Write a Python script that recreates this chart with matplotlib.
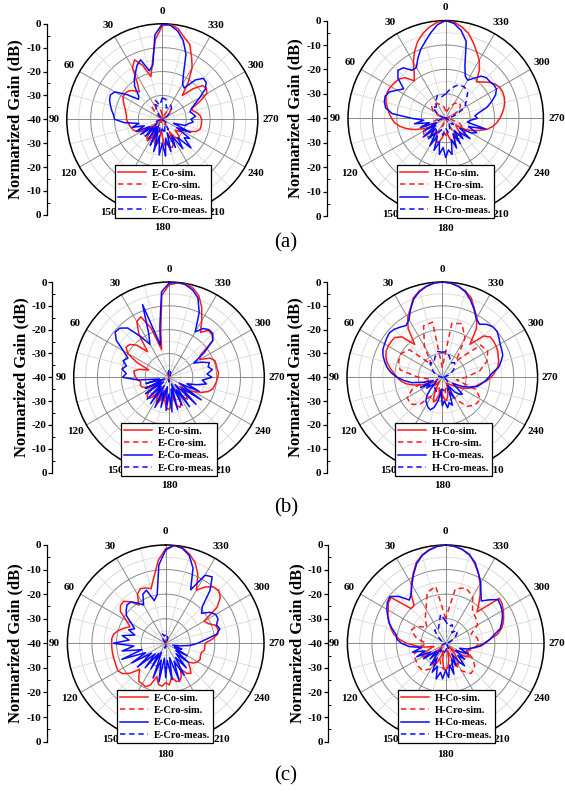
import numpy as np
import matplotlib
matplotlib.use("Agg")
import matplotlib.pyplot as plt

# ---------------------------------------------------------------- data
# angle grids (deg, counter-clockwise from 0 at the top)
ANG5 = list(range(0, 360, 5))
ANG10 = list(range(0, 360, 10))

# ----- (a) E-plane
A_E_CO_SIM = [-0.8, -6.5, -16, -21.5, -16, -12.5, -15, -22, -25, -23, -21.5, -21,
              -21, -22, -23, -24, -24.5, -25, -25, -25.5, -26, -26.5, -27, -28,
              -30, -34, -37, -33, -30, -29, -31, -36, -31, -28.5, -30, -35,
              -33, -29, -29.5, -28, -27.5, -29, -34, -31, -29, -30, -33, -31,
              -31, -28, -25, -23.7, -23.5, -23.5, -23.5, -24, -25, -26.5, -27, -23,
              -18.5, -17.4, -18, -22, -27, -21, -15, -11, -6.5, -4.5, -1.5, 0]
A_E_CO_MEAS = [0, -4.5, -17, -19, -13.5, -15, -17.5, -19.5, -22, -26, -27, -22,
               -17, -16, -16.5, -17.5, -18.5, -19.5, -20, -24, -30, -27, -32, -28,
               -34, -29, -35, -30, -36, -30, -37, -28, -35, -26, -33, -25,
               -30, -24.5, -32, -26, -34, -27, -32, -25, -30, -23, -28, -26,
               -33, -27, -35, -30, -29, -27, -28, -26, -27, -28, -27, -25,
               -22, -18, -16, -15.7, -18.5, -24, -23, -19, -11, -6, -2.5, -0.5]
A_E_CRO_SIM = [-38, -36, -34, -32.5, -33, -37, -40, -40, -40, -40, -40, -40,
               -40, -39, -38, -37, -38, -40, -40, -40, -38, -37, -38, -40,
               -40, -40, -40, -40, -40, -40, -39, -36, -34.5, -36, -39, -40]
A_E_CRO_MEAS = [-31, -34, -31.5, -35, -38, -40, -40, -40, -40, -40, -39, -37,
                -38, -36, -37, -35, -37, -34, -36, -34, -37, -35, -38, -38,
                -40, -40, -40, -40, -40, -40, -38, -36, -34, -33, -35, -31.5]

# ----- (a) H-plane
A_H_CO_SIM = [0, -0.5, -2, -4, -6.5, -9.8, -13.5, -17.5, -20, -16.5, -15, -14.5,
              -14, -13.8, -14, -14.7, -15.8, -16.8, -17.8, -19, -21, -23.5, -26.5, -30,
              -33, -35, -34, -32, -31, -31.5, -33, -31, -29.5, -30, -32, -34,
              -33, -34, -32, -30, -29.5, -31, -33, -31.5, -31, -32, -34, -35,
              -31, -28, -25.5, -22.5, -20.5, -19, -17.8, -16.8, -15.8, -15, -14.5, -14.3,
              -14.5, -15.5, -17, -19, -20.5, -16, -12.5, -10, -7, -4, -2, -0.5]
A_H_CO_MEAS = [0, -1.5, -4.5, -7.5, -10, -13, -16, -16, -13, -12.3, -14.5, -19,
               -17, -14.5, -13.6, -14, -15, -18, -26, -31, -27, -33, -29, -36,
               -30, -35, -28, -34, -29, -33, -27, -32, -26, -30, -25, -28,
               -24, -27, -25, -31, -27, -33, -28, -34, -29, -32, -27, -33,
               -28, -26, -30, -23, -31, -30, -27, -28, -26, -22.5, -20, -17.5,
               -16, -16, -16.5, -16.5, -17.5, -20, -22, -21, -17, -7.5, -3.5, -1]
A_H_CRO_SIM = [-37, -35, -34, -33, -32.5, -32.5, -34, -37, -40, -40, -36, -32,
               -29.5, -28.5, -30, -34, -37, -40, -40, -40, -37, -34, -31, -30,
               -31, -34, -38, -40, -40, -37, -34, -32, -31.5, -33, -35, -37]
A_H_CRO_MEAS = [-30, -31, -30, -32, -34, -33, -36, -38, -40, -40, -38, -36,
                -35, -33, -34, -32, -35, -33, -36, -34, -35, -37, -38, -36,
                -38, -40, -40, -40, -38, -35, -31, -29, -26, -25, -25.5, -27.5]

# ----- (b) E-plane
B_E_CO_SIM = [-1.2, -5.5, -20, -28, -18, -12, -13, -18, -26, -21, -18.5, -18,
              -20, -25, -31, -27, -25, -25.5, -26, -27, -28, -27.5, -28, -30,
              -33, -30, -28, -27.5, -29, -33, -30, -27.5, -30, -35, -30, -27,
              -26.5, -28, -32, -28, -26.5, -28, -33, -30, -28, -30, -34, -30,
              -28, -25, -22.5, -21, -20.5, -20, -19.5, -19.2, -19.5, -19.5, -19.5, -21,
              -25, -24, -16, -14.5, -14.3, -17, -12.5, -7.5, -3.5, -1.2, 0, -0.3]
B_E_CO_MEAS = [-0.5, -4, -18, -26, -7.5, -20, -24, -19, -13, -10.8, -10.5, -13,
               -18, -21, -19.5, -21.5, -20, -22, -20.5, -27, -36, -30, -38, -29,
               -36, -28, -37, -27, -35, -26.5, -36, -26, -34, -27, -36, -26,
               -33, -25.5, -35, -26, -37, -27, -34, -25, -36, -24, -33, -23.5,
               -35, -26, -32, -28, -24, -26, -22, -24, -21.5, -23, -22, -25,
               -28, -22, -16, -14, -13.9, -15, -18, -10, -4.5, -2, -0.5, 0]
B_E_CRO_SIM = [-38, -39, -40, -40, -40, -40, -40, -40, -40, -40, -40, -40,
               -40, -40, -40, -39, -38.5, -39, -40, -40, -40, -40, -40, -40,
               -40, -40, -40, -40, -40, -40, -40, -40, -40, -40, -39, -38.5]
B_E_CRO_MEAS = [-37, -38, -39, -40, -40, -40, -40, -40, -40, -40, -40, -40,
                -40, -40, -40, -40, -40, -39, -38, -39, -40, -40, -40, -40,
                -40, -40, -40, -40, -40, -40, -40, -40, -40, -39, -38, -37.5]

# ----- (b) H-plane
B_H_CO_SIM = [0, -0.3, -1.2, -2.5, -4.5, -8.2, -11, -15, -22, -16, -14, -13.8,
              -13.8, -14, -14.8, -16, -17.8, -19.5, -21, -22.5, -24.5, -27.5, -31, -34,
              -36, -37, -36, -35, -36, -38, -36, -32, -29, -30, -33, -35,
              -33, -31, -30, -31.5, -33, -35, -36, -37, -36.5, -36, -35, -33,
              -31, -29, -27, -25.5, -24, -21.5, -19.5, -18, -16.5, -15.5, -15, -14.3,
              -13.9, -13.7, -13.7, -15.5, -22, -15, -11, -8.2, -4.5, -2.5, -1.2, -0.3]
B_H_CO_MEAS = [0, -0.3, -1.3, -2.8, -5, -8.5, -12, -13.5, -12.5, -11.5, -11, -11.5,
               -12, -12.5, -13.5, -15, -16.5, -18.5, -21, -24, -27, -32, -36, -30,
               -34, -32, -36, -33, -30, -28, -27, -26, -25.5, -27, -30, -34,
               -28, -30, -27, -29, -27.5, -33, -30, -36, -32, -30, -29, -33,
               -35, -31, -28, -25, -23.5, -22, -20.5, -19, -16, -14.5, -13, -12.5,
               -12, -11, -10, -10, -11, -12.8, -11.5, -8.5, -5.5, -2.8, -1.2, -0.3]
B_H_CRO_SIM = [-36, -16.5, -17, -25, -33, -22, -20, -20.5, -22, -30, -35, -27,
               -23, -22.5, -25, -31, -36, -33, -31, -33, -36, -30, -24, -22,
               -21.5, -25, -34, -30, -24, -20, -18, -19, -31, -21, -16, -17]
B_H_CRO_MEAS = [-29.5, -29, -31, -33, -32, -34, -36, -38, -39, -40, -39, -38,
                -37, -36, -35, -34, -33.5, -34, -35, -34, -33.5, -35, -36, -37,
                -38, -39, -40, -40, -39, -37, -35, -33, -32, -33, -31, -29]

# ----- (c) E-plane
C_E_CO_SIM = [-1.5, -6, -12.5, -17, -16, -15.5, -17, -21, -18, -15.8, -16, -17.5,
              -21.5, -24, -22, -20, -18.5, -18, -18, -18, -18, -18, -18, -17.8,
              -17.6, -18.5, -21, -25, -23, -21, -21, -20.5, -22, -26, -23, -22.5,
              -24, -23, -26, -24, -23.5, -25, -28, -25, -24, -26, -28, -26,
              -25, -24.5, -25, -25, -24, -24, -24, -21, -18.5, -17.9, -18.5, -21,
              -22, -14.5, -11, -9.5, -10, -12, -15, -9, -5, -2.5, -0.5, 0]
C_E_CO_MEAS = [-2, -8, -20, -22, -17, -18, -22, -20, -18, -17.8, -19, -20.5,
               -24, -26, -24, -27, -22, -25, -18.7, -27, -22, -30, -21, -31,
               -24, -33, -25, -34, -27, -35, -28, -36, -25, -33, -24, -34,
               -26, -33, -25, -34, -24, -32, -25, -33, -27, -34, -28, -35,
               -30, -36, -33, -37, -34, -30, -27, -24, -19, -17.2, -18, -16.5,
               -16.5, -18, -21, -19, -12, -7, -8, -16, -7.5, -3, -0.8, 0]
C_E_CRO_SIM = [-38.5, -39, -40, -40, -40, -40, -40, -40, -40, -40, -40, -40,
               -40, -40, -40, -40, -39.5, -39, -39.5, -40, -40, -40, -40, -40,
               -40, -40, -40, -40, -40, -40, -40, -40, -40, -40, -39.5, -39]
C_E_CRO_MEAS = [-36.5, -37, -36, -37.5, -39, -40, -40, -40, -40, -40, -40, -40,
                -40, -40, -40, -40, -39, -38, -38.5, -39, -40, -40, -40, -40,
                -40, -40, -40, -40, -40, -40, -40, -40, -40, -39, -37.5, -37]

# ----- (c) H-plane
C_H_CO_SIM = [0, -0.4, -1.3, -2.8, -5, -8.7, -12, -15.5, -20, -20, -11, -11.5,
              -13, -14, -15.5, -17, -18.5, -21, -24, -28, -31, -35, -33, -30,
              -29, -31, -35, -38, -34, -31, -30, -31, -34, -37, -33, -30,
              -29, -30, -33, -37, -34, -31, -30, -31, -34, -38, -35, -31,
              -29, -30, -31, -30, -29, -27, -24.5, -22, -18.5, -16.5, -15, -14,
              -12.9, -12, -11.5, -22, -19, -15.5, -12, -8.6, -5.5, -2.5, -1.2, -0.4]
C_H_CO_MEAS = [0, -0.4, -1.5, -3, -5.5, -9, -12.5, -15.5, -17, -13, -10.4, -11,
               -12.3, -14, -15.5, -17.5, -19.5, -20, -22, -25, -30, -26, -31, -27,
               -33, -29, -35, -31, -36, -29, -33, -27, -30, -25, -28, -25.5,
               -29, -26, -31, -27, -33, -30, -35, -31, -28, -33, -30, -35,
               -33, -30, -34, -31, -29, -26, -24, -22, -20, -17, -15.8, -14.5,
               -13.5, -12.8, -12.3, -15, -17.5, -15, -11.5, -8.5, -5, -2.8, -1.2, -0.3]
C_H_CRO_SIM = [-30, -16.5, -18, -24, -27, -30, -26, -25, -28, -32, -29, -26,
               -26, -25.5, -25.5, -28, -33, -30, -29, -30, -32, -27, -24, -24.5,
               -27, -31, -28, -26.5, -27, -29, -25, -24, -23, -18, -16, -17.5]
C_H_CRO_MEAS = [-31, -28, -32, -34, -33, -36, -38, -39, -40, -40, -40, -39,
                -38, -37, -37, -36, -37, -36, -37, -38, -37, -38, -39, -40,
                -40, -40, -40, -40, -39, -38, -36, -34, -33, -35, -32, -33]

ANGLE_LABELS = list(range(0, 360, 30))
GAIN_TICKS = [0, 10, 20, 30, 40, 50, 60, 70, 80]
GAIN_LABELS = ['0', '-10', '-20', '-30', '-40', '-30', '-20', '-10', '0']
E_NAMES = ['E-Co-sim.', 'E-Cro-sim.', 'E-Co-meas.', 'E-Cro-meas.']
H_NAMES = ['H-Co-sim.', 'H-Cro-sim.', 'H-Co-meas.', 'H-Cro-meas.']

# ---------------------------------------------------------------- figure
W, H = 565, 795
plt.rcParams['font.family'] = ['Liberation Serif', 'DejaVu Serif']
plt.rcParams['font.weight'] = 'bold'
plt.rcParams['axes.labelweight'] = 'bold'

fig = plt.figure(figsize=(W / 100, H / 100), dpi=100)
fig.patch.set_facecolor('white')


def closed(ang, val):
    """close the pattern so the curve joins at 0/360 deg"""
    a = np.deg2rad(np.r_[ang, ang[0] + 360])
    v = np.clip(np.r_[val, val[0]], -40, 0)
    return a, v


def panel(cx, cy, r, sx, leg, names, co_sim, cro_sim, co_meas, cro_meas):
    ax = fig.add_axes([(cx - r) / W, 1 - (cy + r) / H, 2 * r / W, 2 * r / H],
                      projection='polar')
    ax.set_theta_zero_location('N')
    ax.set_theta_direction(1)
    ax.set_ylim(-40, 0)
    ax.set_xticks([])
    ax.set_yticks([])
    ax.grid(False)
    ax.spines['polar'].set_linewidth(1.1)
    ax.spines['polar'].set_color('black')

    # grid
    full = np.linspace(0, 2 * np.pi, 361)
    for rr in [-35, -25, -15, -5]:
        ax.plot(full, np.full_like(full, rr), color='#d8d8d8', lw=0.6, zorder=1)
    for rr in [-30, -20, -10]:
        ax.plot(full, np.full_like(full, rr), color='#8a8a8a', lw=0.7, zorder=1)
    for a in range(0, 360, 15):
        c = '#8a8a8a' if a % 30 == 0 else '#d8d8d8'
        ax.plot([np.deg2rad(a)] * 2, [-40, 0], color=c, lw=0.7 if a % 30 == 0 else 0.6, zorder=1)

    for a in ANGLE_LABELS:
        ax.text(np.deg2rad(a), 5.3, str(a), ha='center', va='center', fontsize=8)

    l1, = ax.plot(*closed(ANG5, co_sim), color='#ff1a1a', lw=1.1, zorder=3)
    l2, = ax.plot(*closed(ANG10, cro_sim), color='#ff1a1a', lw=1.1, ls=(0, (3.5, 2.5)), zorder=3)
    l3, = ax.plot(*closed(ANG5, co_meas), color='#0a0aff', lw=1.1, zorder=4)
    l4, = ax.plot(*closed(ANG10, cro_meas), color='#0a0aff', lw=1.1, ls=(0, (3.5, 2.5)), zorder=4)

    lg = ax.legend([l1, l2, l3, l4], names, loc='lower left',
                   bbox_to_anchor=(leg[0] / W, 1 - leg[1] / H),
                   bbox_transform=fig.transFigure, borderaxespad=0,
                   fontsize=7.5, frameon=True, fancybox=False, framealpha=1,
                   edgecolor='black', handlelength=2.7, handletextpad=0.5,
                   labelspacing=0.3, borderpad=0.3)
    lg.get_frame().set_linewidth(0.9)
    lg.set_zorder(10)

    # linear gain scale on the left
    lax = fig.add_axes([sx / W, 1 - (cy + r) / H, 0.0005, 2 * r / H])
    lax.patch.set_visible(False)
    lax.set_ylim(0, 80)
    lax.set_yticks(GAIN_TICKS)
    lax.set_yticklabels(GAIN_LABELS)
    lax.set_yticks(np.arange(5, 80, 10), minor=True)
    lax.set_xticks([])
    for s in ['top', 'right', 'bottom']:
        lax.spines[s].set_visible(False)
    lax.spines['left'].set_linewidth(0.9)
    lax.tick_params(axis='y', which='major', direction='out', length=3, width=0.9,
                    labelsize=8, pad=1)
    lax.tick_params(axis='y', which='minor', direction='in', length=2.5, width=0.7)
    lax.set_ylabel('Normarized Gain (dB)', fontsize=12, labelpad=2)


panel(162.3, 119.3, 95.5, 46.7, (115, 218), E_NAMES,
      A_E_CO_SIM, A_E_CRO_SIM, A_E_CO_MEAS, A_E_CRO_MEAS)
panel(445.7, 118.3, 97.7, 326.7, (397, 218), H_NAMES,
      A_H_CO_SIM, A_H_CRO_SIM, A_H_CO_MEAS, A_H_CRO_MEAS)
panel(169.0, 377.3, 95.3, 52.3, (121, 476), E_NAMES,
      B_E_CO_SIM, B_E_CRO_SIM, B_E_CO_MEAS, B_E_CRO_MEAS)
panel(442.3, 377.3, 95.3, 326.7, (395, 476), H_NAMES,
      B_H_CO_SIM, B_H_CRO_SIM, B_H_CO_MEAS, B_H_CRO_MEAS)
panel(165.7, 643.3, 98.3, 46.7, (117, 743), E_NAMES,
      C_E_CO_SIM, C_E_CRO_SIM, C_E_CO_MEAS, C_E_CRO_MEAS)
panel(445.7, 643.3, 98.3, 328.3, (398, 743), H_NAMES,
      C_H_CO_SIM, C_H_CRO_SIM, C_H_CO_MEAS, C_H_CRO_MEAS)

for lab, y in [('(a)', 243), ('(b)', 508), ('(c)', 776)]:
    fig.text(286 / W, 1 - y / H, lab, ha='center', va='center', fontsize=15,
             fontweight='normal')

fig.savefig('out.png', dpi=100)
